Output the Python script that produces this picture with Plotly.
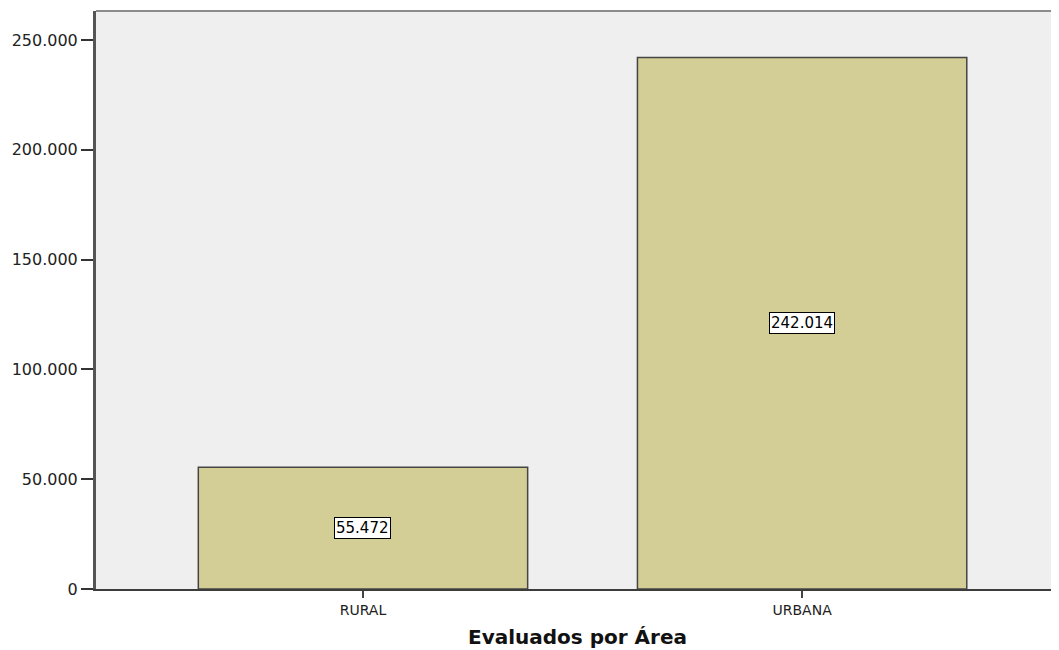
import plotly.graph_objects as go

categories = ["RURAL", "URBANA"]
values = [55472, 242014]
label_texts = ["55.472", "242.014"]
y_ticks = [0, 50000, 100000, 150000, 200000, 250000]
y_tick_labels = ["0", "50.000", "100.000", "150.000", "200.000", "250.000"]

xpos = list(range(len(categories)))
FONT = "DejaVu Sans, Verdana, sans-serif"

fig = go.Figure()
fig.add_trace(go.Bar(
    x=xpos, y=values, width=0.75,
    marker=dict(color="#d3cd96", line=dict(color="#454545", width=1.5)),
    hoverinfo="skip",
))

for xi, v, t in zip(xpos, values, label_texts):
    fig.add_annotation(
        x=xi, y=v / 2, text=t, showarrow=False,
        font=dict(family=FONT, size=15, color="#000"),
        bgcolor="white", bordercolor="black", borderwidth=1, borderpad=1,
    )

fig.add_shape(type="line", xref="paper", yref="paper", x0=0, x1=1, y0=1, y1=1,
              line=dict(color="#8c8c8c", width=2))

fig.update_layout(
    width=1051, height=642,
    margin=dict(l=88, r=0, t=3, b=61),
    plot_bgcolor="#efefef", paper_bgcolor="white",
    separators=",.",
    showlegend=False,
    font=dict(family=FONT, color="#222"),
    xaxis=dict(
        tickmode="array", tickvals=xpos, ticktext=categories,
        range=[-0.608, 1.585],
        showline=True, linecolor="#3c3c3c", linewidth=1.5,
        ticks="outside", ticklen=7, tickcolor="#444", tickwidth=1.5,
        tickfont=dict(family=FONT, size=14, color="#222"),
        showgrid=False, zeroline=False,
        title=dict(text="<b>Evaluados por Área</b>", font=dict(family=FONT, size=20, color="#111"), standoff=13),
    ),
    yaxis=dict(
        tickmode="array", tickvals=y_ticks, ticktext=y_tick_labels,
        range=[0, 263200],
        showline=True, linecolor="#555555", linewidth=3,
        ticks="outside", ticklen=12, tickcolor="#333", tickwidth=1.5,
        tickfont=dict(family=FONT, size=16, color="#222"),
        showgrid=False, zeroline=False,
    ),
)

fig.write_html("out.html")
